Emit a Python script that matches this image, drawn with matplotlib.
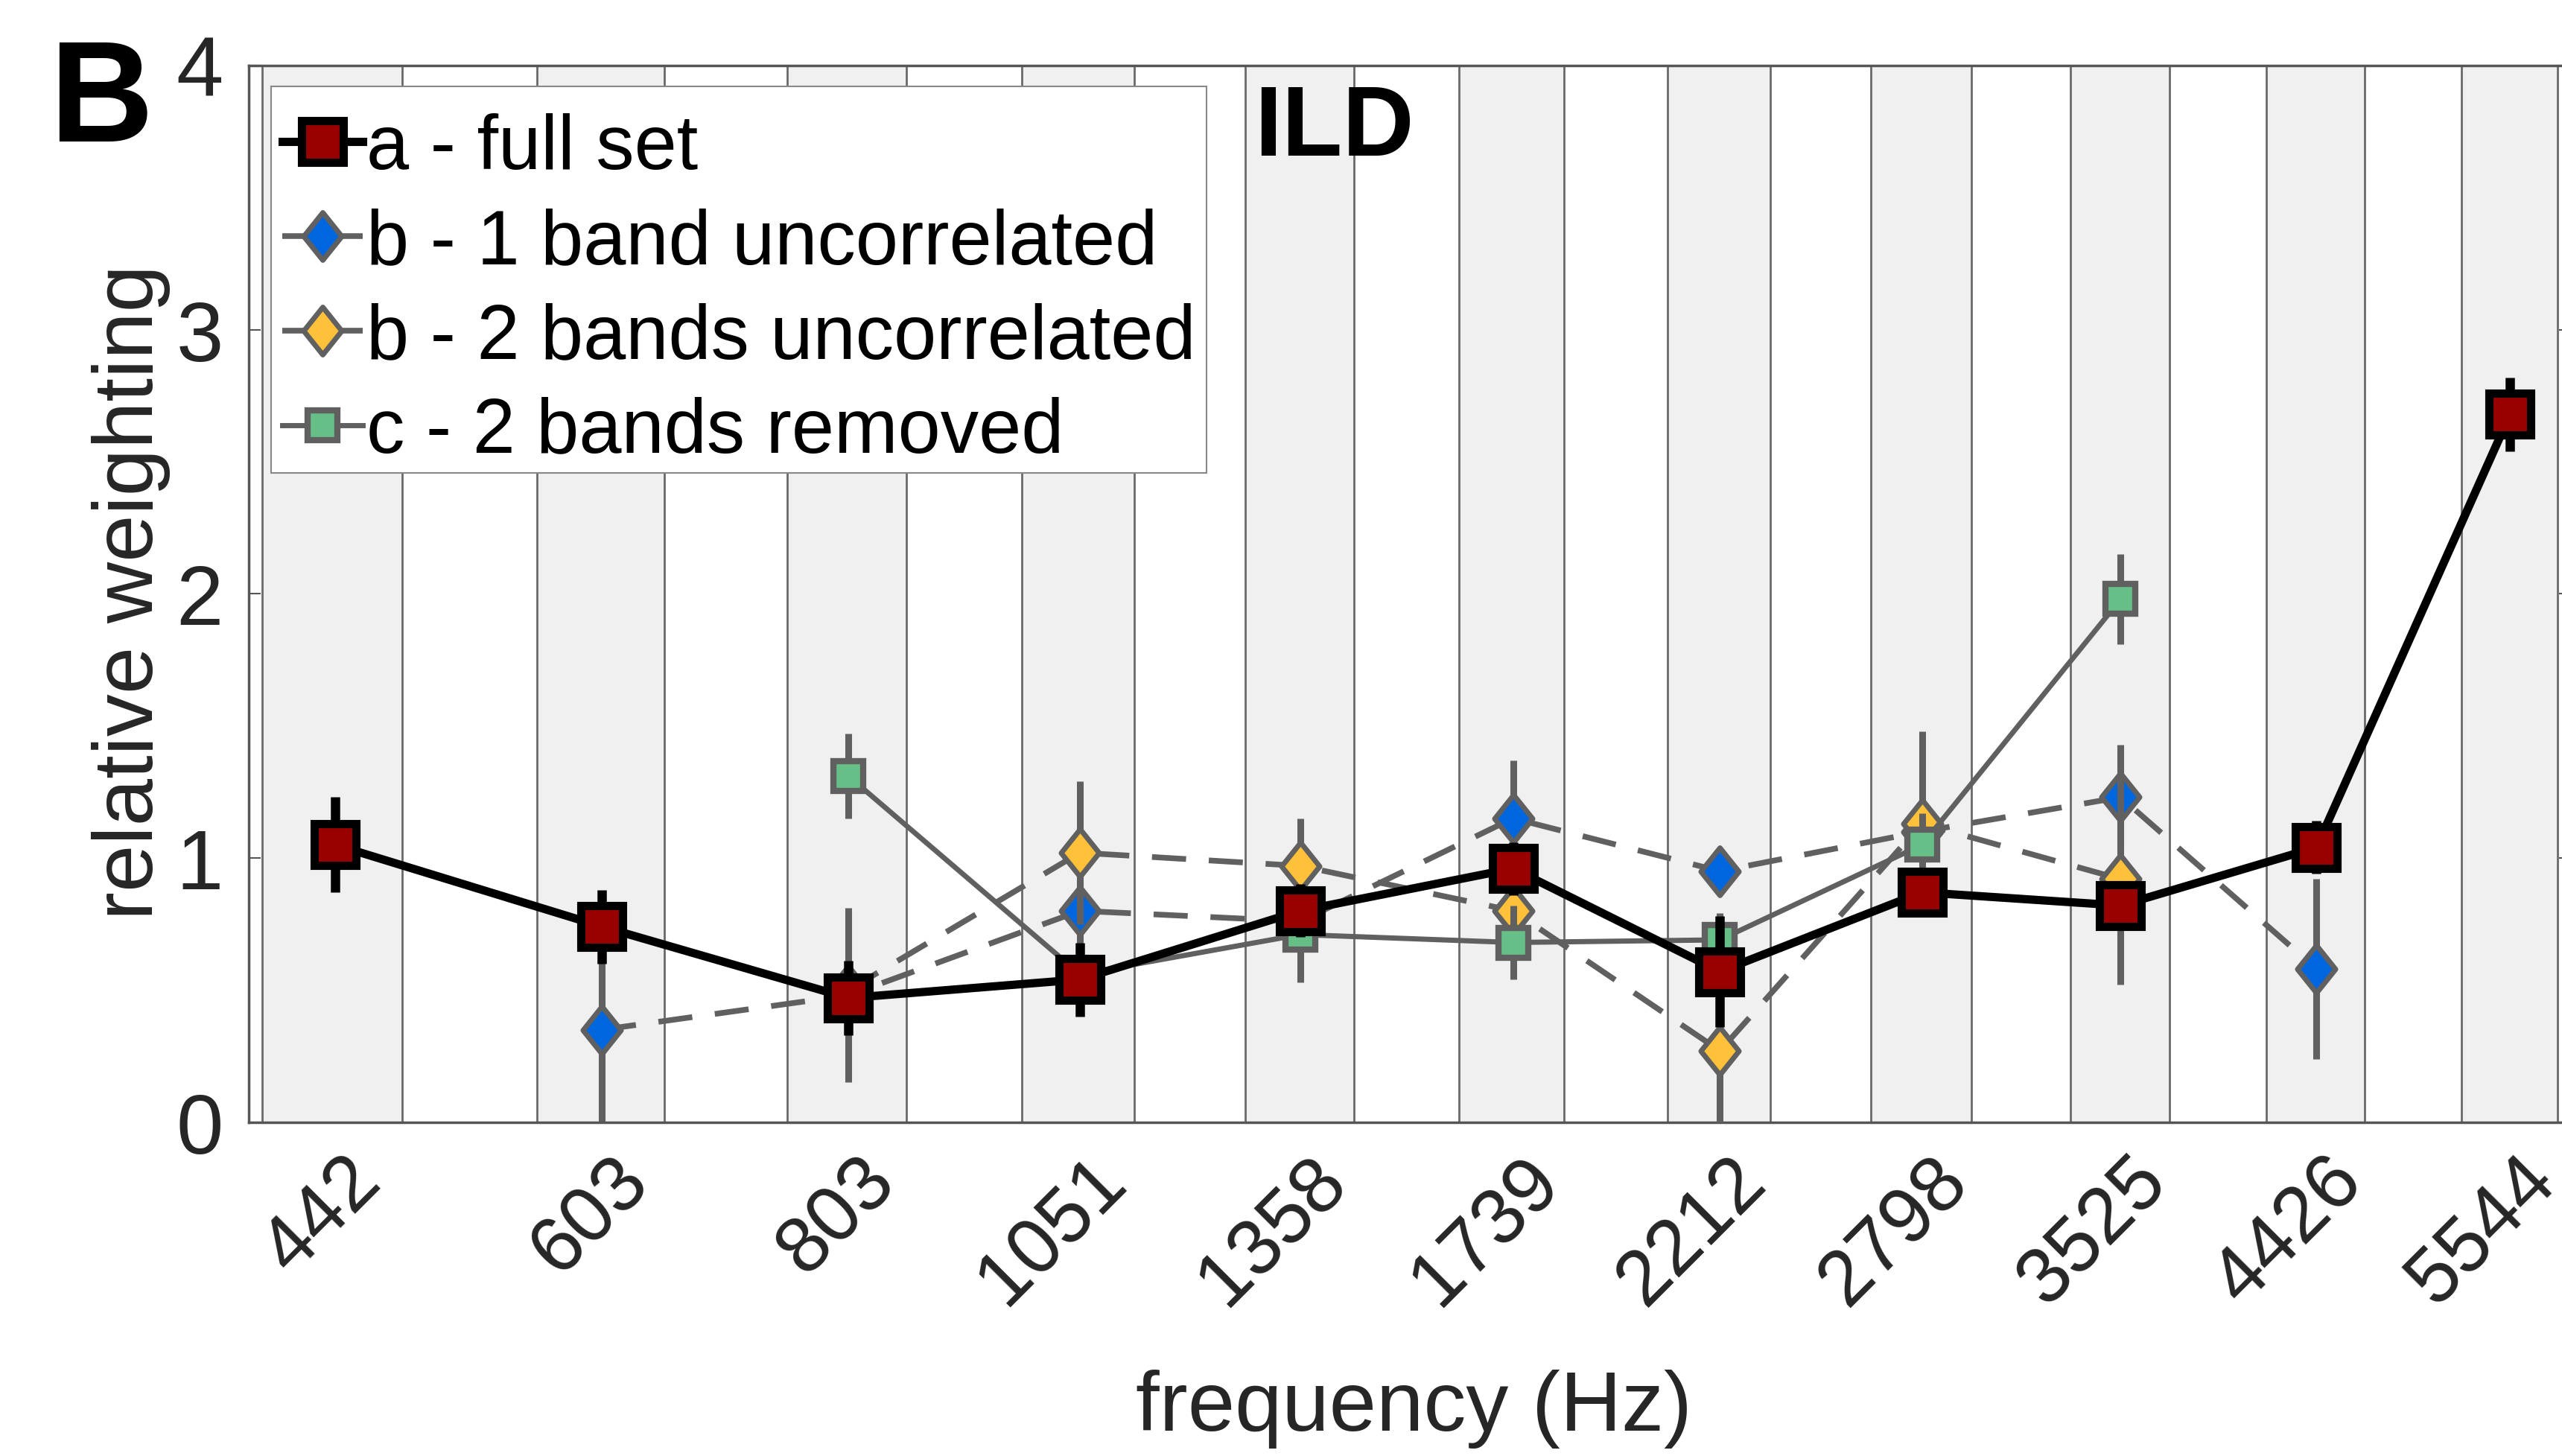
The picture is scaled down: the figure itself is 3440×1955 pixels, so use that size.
import numpy as np
import matplotlib
matplotlib.use('Agg')
import matplotlib.pyplot as plt
from matplotlib.path import Path
from matplotlib.patches import Rectangle
from matplotlib.ticker import NullLocator
from matplotlib.transforms import ScaledTranslation

plt.rcParams['font.family'] = ['Liberation Sans', 'DejaVu Sans']

nan = np.nan
# band centre frequencies (Hz) and band edges
freqs = [442, 603, 803, 1051, 1358, 1739, 2212, 2798, 3525, 4426, 5544]
band_lo = [406, 559, 748, 982, 1274, 1633, 2082, 2637, 3326, 4177, 5238]
band_hi = [478, 648, 859, 1120, 1445, 1846, 2346, 2964, 3732, 4683, 5856]

# a - full set
full_set = [1.05, 0.74, 0.47, 0.54, 0.80, 0.96, 0.57, 0.87, 0.82, 1.04, 2.68]
full_set_err = [0.18, 0.14, 0.14, 0.14, 0.10, 0.10, 0.21, 0.08, 0.08, 0.10, 0.14]
# b - 1 band uncorrelated
one_band = [nan, 0.35, 0.48, 0.80, 0.76, 1.15, 0.95, 1.10, 1.23, 0.58, nan]
one_band_err = [nan, 0.35, 0.33, 0.15, 0.12, 0.22, 0.08, 0.12, 0.20, 0.34, nan]
# b - 2 bands uncorrelated
two_bands = [nan, nan, 0.50, 1.02, 0.97, 0.80, 0.27, 1.13, 0.92, nan, nan]
two_bands_err = [nan, nan, 0.10, 0.27, 0.18, 0.12, 0.27, 0.35, 0.40, nan, nan]
# c - 2 bands removed
removed = [nan, nan, 1.31, 0.56, 0.71, 0.68, 0.69, 1.05, 1.98, nan, nan]
removed_err = [nan, nan, 0.16, 0.10, 0.18, 0.14, 0.10, 0.12, 0.17, nan, nan]

labels = ['a - full set', 'b - 1 band uncorrelated',
          'b - 2 bands uncorrelated', 'c - 2 bands removed']

gray = '#606060'
dark_red = '#990000'
blue = '#0066DD'
yellow = '#FFC13A'
green = '#65BF87'
diamond = Path([(0, 1), (0.8, 0), (0, -1), (-0.8, 0), (0, 1)], closed=True)
dashed = (0, (6, 4))

fig = plt.figure(figsize=(34.41, 19.56), dpi=100)
ax = fig.add_axes([0.0972, 0.2292, 0.9060, 0.7253])
ax.set_xscale('log')

# shaded frequency bands
for lo, hi in zip(band_lo, band_hi):
    ax.axvspan(lo, hi, facecolor='#F0F0F0', edgecolor='#6A6A6A', lw=2, zorder=0)

# b - 1 band
ax.errorbar(freqs, one_band, yerr=one_band_err, fmt='none', ecolor=gray,
            elinewidth=6.5, capsize=0, zorder=2)
h_b1, = ax.plot(freqs, one_band, color=gray, lw=5.5, ls=dashed, marker=diamond,
                ms=46, mfc=blue, mec=gray, mew=5, zorder=3)
# b - 2 bands
ax.errorbar(freqs, two_bands, yerr=two_bands_err, fmt='none', ecolor=gray,
            elinewidth=6.5, capsize=0, zorder=4)
h_b2, = ax.plot(freqs, two_bands, color=gray, lw=5.5, ls=dashed, marker=diamond,
                ms=46, mfc=yellow, mec=gray, mew=5, zorder=5)
# c - removed
ax.errorbar(freqs, removed, yerr=removed_err, fmt='none', ecolor=gray,
            elinewidth=6.5, capsize=0, zorder=6)
h_c, = ax.plot(freqs, removed, color=gray, lw=5, marker='s',
               ms=29, mfc=green, mec=gray, mew=6, zorder=7)
# a - full set
ax.errorbar(freqs, full_set, yerr=full_set_err, fmt='none', ecolor='black',
            elinewidth=9, capsize=0, zorder=8)
h_a, = ax.plot(freqs, full_set, color='black', lw=8, marker='s',
               ms=40, mfc=dark_red, mec='black', mew=8, zorder=9)

ax.set_xlim(400, 5950)
ax.set_ylim(0, 4)
ax.set_xticks(freqs)
ax.set_xticklabels([str(f) for f in freqs])
ax.xaxis.set_minor_locator(NullLocator())
ax.set_yticks([0, 1, 2, 3, 4])

ax.tick_params(axis='x', length=0, pad=20, labelsize=76, labelcolor='#262626')
ax.tick_params(axis='y', direction='in', length=11.5, width=1.5, color='#555555',
               pad=25, labelsize=82, labelcolor='#262626', right=True)
shift = ScaledTranslation(0.11, 0, fig.dpi_scale_trans)
for lab in ax.get_xticklabels():
    lab.set_rotation(45)
    lab.set_ha('right')
    lab.set_va('top')
    lab.set_rotation_mode('anchor')
    lab.set_transform(lab.get_transform() + shift)
for sp in ax.spines.values():
    sp.set_color('#555555')
    sp.set_linewidth(2.5)

# legend box drawn separately so the padding matches
ax.add_patch(Rectangle((0.00946, 0.6144), 0.4028, 0.3659, transform=ax.transAxes,
                       facecolor='white', edgecolor='#888888', lw=1.5,
                       zorder=19, clip_on=False))
leg = ax.legend([h_a, h_b1, h_b2, h_c], labels, loc='upper left',
                bbox_to_anchor=(0.0143, 0.9555), borderaxespad=0, fontsize=74,
                frameon=False, borderpad=0, labelspacing=0.29,
                handlelength=1.05, handletextpad=0.05)
leg.set_zorder(20)

fig.text(0.4894, 0.8931, 'ILD', fontsize=96, fontweight='bold', va='baseline')
fig.text(0.0192, 0.9029, 'B', fontsize=139, fontweight='bold', va='baseline')
fig.text(0.0511, 0.5933, 'relative weighting', fontsize=82, color='#262626',
         rotation=90, ha='center', va='center')
fig.text(0.5516, 0.0329, 'frequency (Hz)', fontsize=82, color='#262626',
         ha='center', va='center')

fig.savefig('out.png', dpi=100)
